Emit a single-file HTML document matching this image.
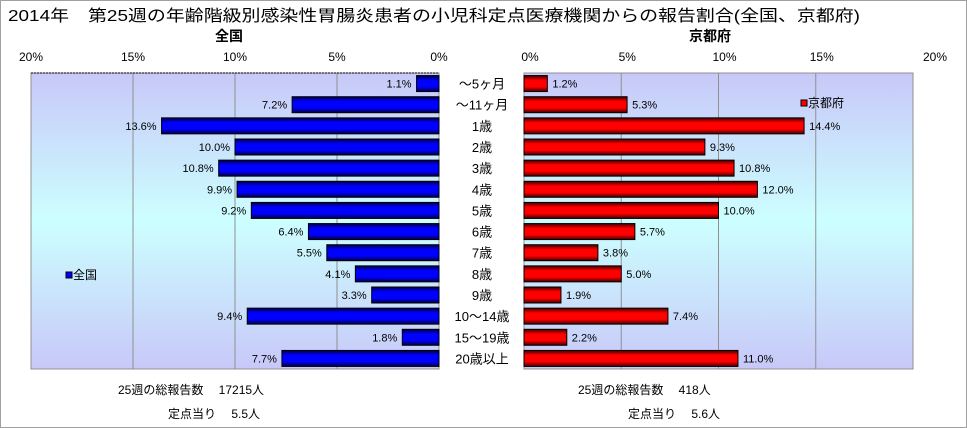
<!DOCTYPE html>
<html><head><meta charset="utf-8"><style>
body{margin:0;background:#fff}
svg{display:block;font-family:"Liberation Sans","Noto Sans CJK JP",sans-serif}
</style></head><body>
<svg id="c" width="967" height="428" viewBox="0 0 967 428">
<defs>
<linearGradient id="bg" x1="0" y1="0" x2="0" y2="1">
<stop offset="0" stop-color="#c8c8f8"/><stop offset="0.5" stop-color="#ccffff"/><stop offset="1" stop-color="#c8c8f8"/>
</linearGradient>
<linearGradient id="gb" x1="0" y1="0" x2="0" y2="1">
<stop offset="0" stop-color="#000040"/><stop offset="0.3" stop-color="#0000ff"/><stop offset="0.7" stop-color="#0000ff"/><stop offset="1" stop-color="#000040"/>
</linearGradient>
<linearGradient id="gr" x1="0" y1="0" x2="0" y2="1">
<stop offset="0" stop-color="#400000"/><stop offset="0.3" stop-color="#ff0000"/><stop offset="0.7" stop-color="#ff0000"/><stop offset="1" stop-color="#400000"/>
</linearGradient>
</defs>
<rect x="0.5" y="0.5" width="966" height="427" fill="#fff" stroke="#a0a0a0"/>
<text x="8" y="21" font-size="16" textLength="852" lengthAdjust="spacingAndGlyphs">2014年　第25週の年齢階級別感染性胃腸炎患者の小児科定点医療機関からの報告割合(全国、京都府)</text>
<text x="229" y="41" font-size="14" font-weight="bold" text-anchor="middle">全国</text>
<text x="710" y="41" font-size="14" font-weight="bold" text-anchor="middle">京都府</text>
<g id="g"></g>
<text x="118" y="394" font-size="12">25週の総報告数　 17215人</text>
<text x="168" y="418" font-size="12">定点当り　 5.5人</text>
<text x="578" y="394" font-size="12">25週の総報告数　 418人</text>
<text x="628" y="418" font-size="12">定点当り　 5.6人</text>
</svg>
<script>
const categories=["～5ヶ月","～11ヶ月","1歳","2歳","3歳","4歳","5歳","6歳","7歳","8歳","9歳","10～14歳","15～19歳","20歳以上"];
const nationalValues=[1.1,7.2,13.6,10.0,10.8,9.9,9.2,6.4,5.5,4.1,3.3,9.4,1.8,7.7];
const kyotoValues=[1.2,5.3,14.4,9.3,10.8,12.0,10.0,5.7,3.8,5.0,1.9,7.4,2.2,11.0];
const tickValues=[0,5,10,15,20];
const NS="http://www.w3.org/2000/svg";
const g=document.getElementById('g');
const yTop=73,yBot=369,rowH=(yBot-yTop)/categories.length;
const L={x0:439,x1:31},R={x0:524,x1:913};
const xL=v=>L.x0+(L.x1-L.x0)*v/20;
const xR=v=>R.x0+(R.x1-R.x0)*v/20;
function el(t,a,txt){const e=document.createElementNS(NS,t);for(const k in a)e.setAttribute(k,a[k]);if(txt!=null)e.textContent=txt;g.appendChild(e);return e;}
function fmt(v){return v.toFixed(1)+'%';}
let e=el('rect',{x:L.x1,y:yTop,width:L.x0-L.x1,height:yBot-yTop,fill:'url(#bg)',stroke:'#909090'});


e=el('rect',{x:R.x0,y:yTop,width:R.x1-R.x0,height:yBot-yTop,fill:'url(#bg)',stroke:'#909090'});


tickValues.forEach(t=>{
  if(t>0&&t<20){
    e=el('line',{x1:xL(t),x2:xL(t),y1:yTop,y2:yBot,stroke:'#909090'});
    
    
    e=el('line',{x1:xR(t),x2:xR(t),y1:yTop,y2:yBot,stroke:'#909090'});
    
    
  }
  e=el('text',{x:xL(t),y:61,'font-size':12,'text-anchor':'middle'},t+'%');
  
  
  e=el('text',{x:xR(t)+(t===0?6:t===20?22:6),y:61,'font-size':12,'text-anchor':'middle'},t+'%');
  
  
});
e=el('line',{x1:L.x1,x2:L.x0,y1:yTop,y2:yTop,stroke:'#000','stroke-dasharray':'2,1'});


categories.forEach((c,i)=>{
  const cy=yTop+rowH*(i+0.5),bh=16;
  const nv=nationalValues[i],kv=kyotoValues[i];
  e=el('rect',{x:xL(nv),y:cy-bh/2,width:xL(0)-xL(nv),height:bh,fill:'url(#gb)',stroke:'#000'});
  
  
  e=el('text',{x:xL(nv)-5,y:cy+4,'font-size':11,'text-anchor':'end'},fmt(nv));
  
  
  e=el('rect',{x:xR(0),y:cy-bh/2,width:xR(kv)-xR(0),height:bh,fill:'url(#gr)',stroke:'#000'});
  
  
  e=el('text',{x:xR(kv)+5,y:cy+4,'font-size':11},fmt(kv));
  
  
  e=el('text',{x:482,y:cy+5,'font-size':13,'text-anchor':'middle'},c);
  
  
});
e=el('rect',{x:66,y:272,width:6,height:6,fill:'#0000ff',stroke:'#000'});


e=el('text',{x:73,y:279,'font-size':12},'全国');


e=el('rect',{x:801,y:100,width:6,height:6,fill:'#ff0000',stroke:'#000'});


e=el('text',{x:808,y:107,'font-size':12},'京都府');


</script>
</body></html>
